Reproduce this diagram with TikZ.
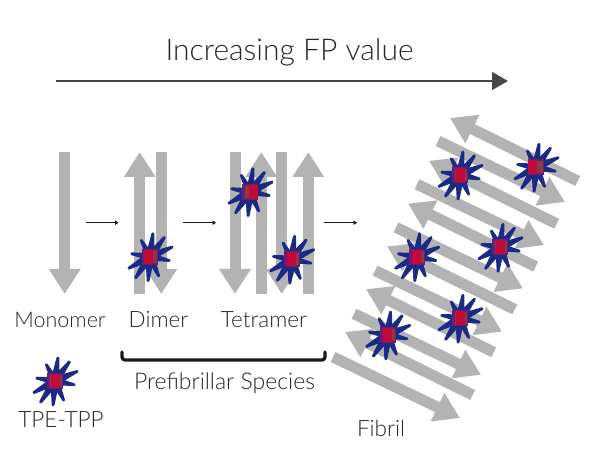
\documentclass[tikz,border=0pt]{standalone}
\usepackage{fontspec}
\setmainfont{Lato Light}
\usetikzlibrary{arrows.meta}
\definecolor{strandgray}{HTML}{B3B3B3}
\definecolor{spikeblue}{HTML}{1B2A84}
\definecolor{corepurple}{HTML}{6E1B72}
\definecolor{corebrown}{HTML}{8A3A45}
\definecolor{corered}{HTML}{C20A3A}
\definecolor{inkgray}{HTML}{262626}
\tikzset{
  strand/.style={draw=strandgray,line width=11pt,-{Triangle[length=25pt,width=30pt,fill=strandgray]}},
  step arrow/.style={draw=black!90,line width=1.4pt,-{Triangle[length=3.5pt,width=4.5pt]}},
  label text/.style={text=inkgray,anchor=base,font=\fontsize{22.5}{26}\selectfont},
  pics/tpe/.style={code={
    \foreach \ex/\ey in {3/-24,15/-20,23/-10,20/4,9/20,-2/25,-15/22,-22/12,-19/-3,-9/-17}
      \filldraw[spikeblue,line width=2.8pt,line join=round]
        (\ex*.2-\ey*.1,\ey*.2+\ex*.1) -- (\ex*.96,\ey*.96) -- (\ex*.2+\ey*.1,\ey*.2-\ex*.1) -- cycle;
    \fill[corepurple] (-8,-8) rectangle (8,8);
    \fill[corebrown] (-5,-6) rectangle (7,6);
    \fill[corered] (#1-4.5,-7) rectangle (#1+4.5,7);
  }}
}
\begin{document}
\begin{tikzpicture}[x=1pt,y=-1pt]
  \useasboundingbox (0,0) rectangle (600,470);
  % scale arrow
  \coordinate (fpstart) at (56,81);
  \coordinate (fpend) at (508,81);
  \draw[draw=inkgray!85,line width=1.2pt,-{Triangle[length=16pt,width=18pt]}] (fpstart)--(fpend);
  \node[label text,font=\fontsize{30}{34}\selectfont] (fp) at (289.5,60.5) {Increasing FP value};
  % monomer
  \draw[strand] (64.7,152)--(64.7,294);
  % dimer
  \draw[strand] (139.7,294)--(139.7,152);
  \draw[strand] (161.3,152)--(161.3,294);
  % tetramer
  \draw[strand] (235,152)--(235,294);
  \draw[strand] (261.3,294)--(261.3,152);
  \draw[strand] (281.7,152)--(281.7,294);
  \draw[strand] (308.3,294)--(308.3,152);
  % fibril
  \foreach \k in {0,...,5} {
    \draw[strand] (333+21*\k,357-43.2*\k)--(460+21*\k,418-43.2*\k);
    \draw[strand] (472.7+21*\k,395-42.8*\k)--(345+21*\k,332-42.8*\k);
  }
  % steps
  \coordinate (stepa) at (86,222.7);
  \coordinate (stepb) at (118.5,222.7);
  \coordinate (stepc) at (183,222.7);
  \coordinate (stepd) at (216,222.7);
  \coordinate (stepe) at (324,222.7);
  \coordinate (stepf) at (357,222.7);
  \draw[step arrow] (stepa)--(stepb);
  \draw[step arrow] (stepc)--(stepd);
  \draw[step arrow] (stepe)--(stepf);
  % probes
  \pic at (150,256.7) {tpe=-2};
  \pic at (250,191.7) {tpe=3};
  \pic at (291.7,259.3) {tpe=0};
  \pic at (460,175) {tpe=0};
  \pic at (536,167.3) {tpe=-4};
  \pic at (500,247.3) {tpe=0};
  \pic at (416.7,256.7) {tpe=0};
  \pic at (460,318.3) {tpe=0};
  \pic at (387.7,335) {tpe=0};
  \pic at (55,381) {tpe=0};
  % bracket
  \coordinate (bracketl) at (122,352);
  \coordinate (bracketr) at (325,352);
  \draw[black!90,line width=3.2pt,line cap=round,rounded corners=3pt] (bracketl)--(122,360)--(325,360)--(bracketr);
  % names
  \node[label text,font=\fontsize{21.5}{26}\selectfont] (monomer) at (60,328) {Monomer};
  \node[label text] (dimer) at (158.5,328) {Dimer};
  \node[label text] (tetramer) at (264,328) {Tetramer};
  \node[label text,font=\fontsize{23}{26}\selectfont] (prefib) at (224.5,390) {Prefibrillar Species};
  \node[label text] (tpename) at (61,427) {TPE-TPP};
  \node[label text] (fibril) at (381,436) {Fibril};
\end{tikzpicture}
\end{document}
